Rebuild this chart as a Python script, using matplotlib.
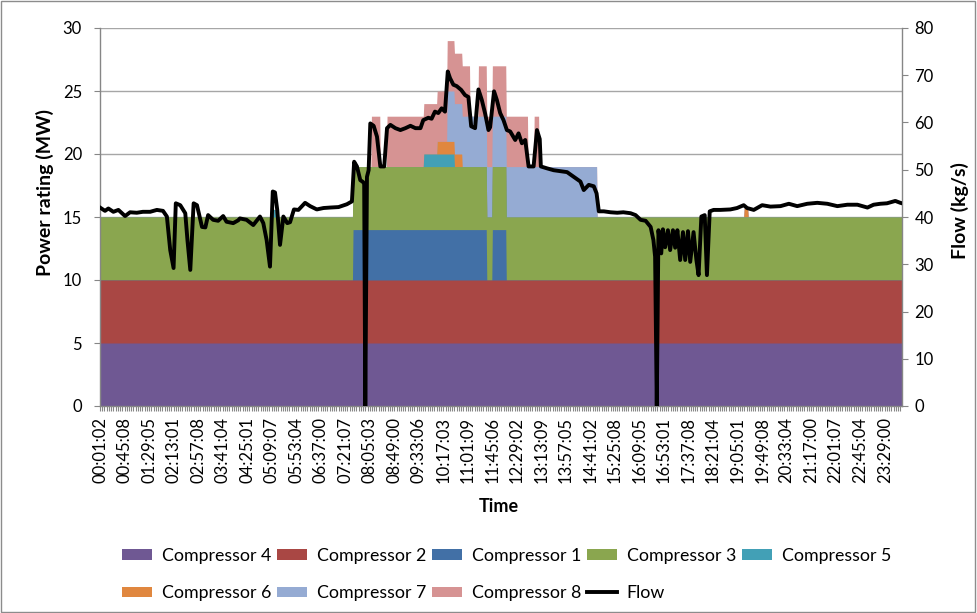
import numpy as np
import matplotlib
matplotlib.use("Agg")
import matplotlib.pyplot as plt
from matplotlib.lines import Line2D
from matplotlib.patches import Rectangle

plt.rcParams['font.family'] = ['Lato', 'DejaVu Sans']

# One reading per minute, starting at 00:01
N_SAMPLES = 1440
TICK_EVERY = 44

tick_labels = [
    "00:01:02", "00:45:08", "01:29:05", "02:13:01", "02:57:08", "03:41:04",
    "04:25:01", "05:09:07", "05:53:04", "06:37:00", "07:21:07", "08:05:03",
    "08:49:00", "09:33:06", "10:17:03", "11:01:09", "11:45:06", "12:29:02",
    "13:13:09", "13:57:05", "14:41:02", "15:25:08", "16:09:05", "16:53:01",
    "17:37:08", "18:21:04", "19:05:01", "19:49:08", "20:33:04", "21:17:00",
    "22:01:07", "22:45:04", "23:29:00",
]

# Running periods of each compressor: (start HH:MM, end HH:MM exclusive, MW)
comp4_runs = [("00:01", "24:01", 5.0)]
comp2_runs = [("00:01", "24:01", 5.0)]
comp1_runs = [("07:35", "11:35", 4.0), ("11:45", "12:10", 4.0)]
comp3_runs = [("00:01", "24:01", 5.0)]
comp5_runs = [("05:12", "05:16", 0.6), ("09:42", "10:37", 1.0)]
comp6_runs = [("10:06", "10:51", 1.0), ("19:17", "19:24", 0.7)]
comp7_runs = [("10:24", "14:53", 4.0)]
comp8_runs = [("08:08", "08:24", 4.0), ("08:36", "11:05", 4.0),
              ("11:20", "12:49", 4.0), ("13:00", "13:09", 4.0)]

# Gas flow (kg/s), sample number -> value
flow_minute = [
    0, 9, 15, 24, 33, 45, 54, 66, 77, 90, 102, 113, 120, 126, 132, 136, 144, 153,
    157, 162, 168, 174, 183, 189, 194, 203, 212, 221, 227, 239, 248, 251, 263, 275,
    287, 293, 299, 305, 310, 314, 318, 323, 329, 336, 341, 348, 356, 368, 377, 389,
    401, 413, 428, 443, 452, 456, 461, 467, 472, 474, 476, 479, 482, 485, 491, 497,
    503, 510, 515, 521, 530, 539, 548, 557, 566, 575, 580, 589, 595, 601, 607, 613,
    619, 624, 628, 634, 640, 648, 655, 661, 666, 673, 679, 685, 691, 697, 700, 707,
    712, 718, 724, 730, 736, 745, 751, 757, 763, 769, 778, 784, 789, 791, 802, 814,
    826, 838, 850, 862, 868, 877, 886, 891, 895, 904, 916, 928, 939, 952, 961, 970,
    979, 988, 993, 996, 999, 1002, 1007, 1010, 1014, 1019, 1023, 1028, 1032, 1036,
    1041, 1046, 1050, 1055, 1059, 1065, 1070, 1074, 1079, 1085, 1089, 1094, 1101,
    1113, 1131, 1143, 1155, 1161, 1173, 1188, 1203, 1221, 1236, 1251, 1269, 1287,
    1305, 1323, 1341, 1359, 1377, 1388, 1400, 1412, 1427, 1436, 1439,
]
flow_kgs = [
    42.0, 41.3, 41.8, 41.1, 41.5, 40.2, 41.0, 40.9, 41.1, 41.1, 41.5, 41.3, 40.1, 33.0,
    29.2, 42.9, 42.5, 40.8, 35.0, 28.8, 42.9, 42.5, 37.9, 37.8, 40.4, 39.4, 39.2, 40.2,
    39.0, 38.7, 39.3, 39.7, 39.4, 38.3, 40.1, 38.7, 35.1, 29.5, 45.4, 45.2, 41.5, 34.1,
    40.1, 38.7, 38.9, 41.6, 41.5, 43.0, 42.3, 41.6, 41.9, 42.0, 42.1, 42.7, 43.3, 51.7,
    50.7, 47.8, 47.4, 47.0, 0.0, 48.5, 49.9, 59.8, 59.3, 57.0, 50.7, 50.7, 58.8, 59.5,
    58.8, 58.4, 58.8, 59.3, 58.8, 58.8, 60.5, 61.0, 60.8, 62.3, 62.0, 63.0, 62.3, 70.8,
    69.4, 68.0, 67.7, 66.9, 65.8, 65.4, 59.2, 58.8, 67.0, 64.8, 61.9, 58.4, 59.0, 66.6,
    64.8, 62.0, 60.5, 58.4, 58.1, 56.3, 57.7, 55.6, 56.3, 50.7, 50.7, 58.4, 56.5, 50.7,
    50.3, 49.9, 49.7, 49.5, 48.5, 47.5, 45.7, 46.8, 46.5, 45.0, 41.2, 41.2, 41.0, 40.9,
    41.0, 40.8, 40.4, 39.4, 39.2, 37.9, 35.1, 31.6, 0.0, 37.2, 32.3, 37.4, 33.6, 37.2,
    33.0, 37.2, 33.5, 37.2, 30.9, 36.8, 30.9, 37.0, 30.5, 36.8, 31.0, 27.7, 40.1, 40.4,
    27.7, 41.2, 41.5, 41.5, 41.6, 41.9, 42.5, 41.9, 41.5, 42.5, 42.2, 42.3, 42.8, 42.3,
    42.8, 43.0, 42.8, 42.3, 42.6, 42.6, 42.0, 42.6, 42.8, 42.9, 43.4, 43.0, 42.9,
]

series_names = ["Compressor 4", "Compressor 2", "Compressor 1", "Compressor 3",
                "Compressor 5", "Compressor 6", "Compressor 7", "Compressor 8"]
series_runs = [comp4_runs, comp2_runs, comp1_runs, comp3_runs,
               comp5_runs, comp6_runs, comp7_runs, comp8_runs]
series_colors = ["#6f5893", "#a94744", "#4270a6", "#8aa64f",
                 "#42a0b6", "#e0873f", "#95abd3", "#d69393"]


def sample_index(hhmm):
    h, m = (int(p) for p in hhmm.split(":"))
    return h * 60 + m - 1


def expand(runs):
    values = np.zeros(N_SAMPLES)
    for start, end, mw in runs:
        values[sample_index(start):min(sample_index(end), N_SAMPLES)] = mw
    return values


x = np.arange(N_SAMPLES)
layers = [expand(r) for r in series_runs]
tops = np.cumsum(layers, axis=0)

fig = plt.figure(figsize=(9.77, 6.13), dpi=100)
ax = fig.add_axes([100 / 977, 1 - 406 / 613, 802 / 977, 378 / 613])
ax2 = ax.twinx()

# Paint the stacked areas from the top layer downwards so neighbours never leave seams
handles = {}
for k in range(len(layers) - 1, -1, -1):
    handles[series_names[k]] = ax.fill_between(
        x, 0, tops[k], color=series_colors[k], linewidth=0, zorder=2)

ax.set_xlim(0, N_SAMPLES - 1)
ax.set_ylim(0, 30)
ax.set_yticks(np.arange(0, 31, 5))
ax.yaxis.grid(True, color="#a6a6a6", linewidth=1.0, zorder=0)
ax.set_axisbelow(True)

ax.set_xticks(np.arange(len(tick_labels)) * TICK_EVERY)
ax.set_xticklabels(tick_labels, rotation=90, fontsize=12)
ax.set_xticks(np.arange(0, N_SAMPLES, 4), minor=True)

flow_line, = ax2.plot(flow_minute, flow_kgs, color="black", linewidth=2.8,
                      solid_joinstyle="round", zorder=5)
ax2.set_ylim(0, 80)
ax2.set_yticks(np.arange(0, 81, 10))

axis_grey = "#868686"
for a in (ax, ax2):
    a.spines["top"].set_visible(False)
ax.spines["right"].set_visible(False)
ax2.spines["left"].set_visible(False)
ax2.spines["bottom"].set_visible(False)
for sp in (ax.spines["left"], ax.spines["bottom"], ax2.spines["right"]):
    sp.set_color(axis_grey)
    sp.set_linewidth(1.0)

ax.tick_params(axis="y", which="major", length=4, color=axis_grey,
               labelsize=12, pad=9)
ax.tick_params(axis="x", which="both", length=3.5, color=axis_grey,
               width=0.8, labelsize=12, pad=4.5)
ax2.tick_params(axis="y", which="major", length=4, color=axis_grey,
                labelsize=12, pad=5)

fig.text(45 / 977, 1 - 193 / 613, "Power rating (MW)", rotation=90,
         ha="center", va="center", fontsize=14, fontweight="bold")
fig.text(960 / 977, 1 - 211 / 613, "Flow (kg/s)", rotation=90,
         ha="center", va="center", fontsize=14, fontweight="bold")
fig.text(499 / 977, 1 - 506 / 613, "Time", ha="center", va="center",
         fontsize=13, fontweight="bold")

# Legend laid out in two rows, read left to right
flow_handle = Line2D([], [], color="black", linewidth=2.8)
row1 = ["Compressor 4", "Compressor 2", "Compressor 1", "Compressor 3", "Compressor 5"]
row2 = ["Compressor 6", "Compressor 7", "Compressor 8", "Flow"]
order = []
for i in range(5):
    order.append(row1[i])
    if i < len(row2):
        order.append(row2[i])
leg_handles = [flow_handle if n == "Flow" else handles[n] for n in order]
fig.legend(leg_handles, order, loc="upper left",
           bbox_to_anchor=(122 / 977, 1 - 548 / 613), ncol=5, frameon=False,
           fontsize=12.8, handlelength=1.7, handleheight=0.56, handletextpad=0.56,
           columnspacing=0.3, labelspacing=1.2, borderpad=0, borderaxespad=0)

fig.add_artist(Rectangle((0.001, 0.002), 0.997, 0.996, transform=fig.transFigure,
                         fill=False, edgecolor="#8c8c8c", linewidth=1.0))

fig.savefig("out.png", dpi=100)
